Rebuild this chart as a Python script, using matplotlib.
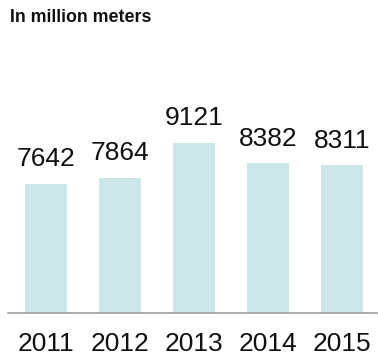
import matplotlib.pyplot as plt

# Production per year
years = ['2011', '2012', '2013', '2014', '2015']
values = [7642, 7864, 9121, 8382, 8311]

plt.rcParams['font.family'] = ['Liberation Sans', 'DejaVu Sans']

fig = plt.figure(figsize=(3.78, 3.57), dpi=100)
W, H = 378, 357
bottom_px, top_px = 312.7, 40
ax = fig.add_axes([8 / W, (H - bottom_px) / H, 370 / W, (bottom_px - top_px) / H])

x = range(len(years))
ax.bar(x, values, width=0.57, color='#cde6ea', zorder=2)

ymin = 3030
ymax = ymin + (bottom_px - top_px) / 0.02793
ax.set_ylim(ymin, ymax)
ax.set_xlim(-0.514, 4.486)

# value labels above bars
for i, v in enumerate(values):
    ax.annotate(str(v), (i, v), xytext=(0, 9), textcoords='offset points',
                ha='center', va='bottom', fontsize=19, color='#111111')

ax.set_xticks(list(x))
ax.set_xticklabels(years, fontsize=19, color='#111111')
ax.tick_params(axis='x', length=0, pad=14)
ax.set_yticks([])

for s in ['top', 'right', 'left']:
    ax.spines[s].set_visible(False)
ax.spines['bottom'].set_color('#a0a0a0')
ax.spines['bottom'].set_linewidth(1.2)

fig.text(10 / W, 1 - 9 / H, 'In million meters', fontsize=12.8, fontweight='bold',
         ha='left', va='top', color='#111111')

fig.savefig('out.png', dpi=100)
